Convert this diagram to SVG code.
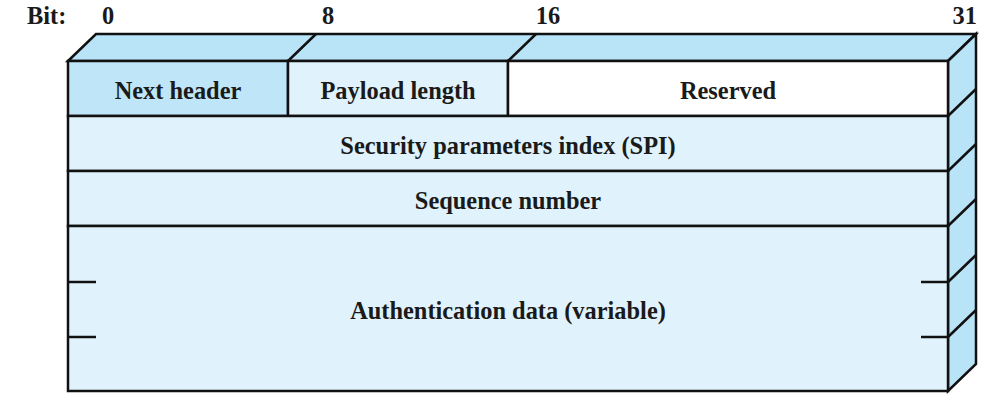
<svg xmlns="http://www.w3.org/2000/svg" width="1005" height="404" viewBox="0 0 1005 404">
<style>
.t{font-family:"Liberation Serif","Times New Roman",serif;font-weight:bold;font-size:24.4px;fill:#1a1a1a}
.c{text-anchor:middle}
.s{stroke:#111;stroke-width:2.5;stroke-linejoin:miter}
.l{stroke:#111;stroke-width:2.5;fill:none}
</style>
<rect width="1005" height="404" fill="#fff"/>
<g id="bitlabels">
<text class="t" x="27" y="24">Bit:</text>
<text class="t c" x="108" y="24">0</text>
<text class="t c" x="328" y="24">8</text>
<text class="t c" x="548" y="24">16</text>
<text class="t" x="977" y="24" text-anchor="end">31</text>
</g>
<g id="top-face">
<polygon class="s" points="68,61 96,34 976,34 948,61" fill="#b9e4f8"/>
</g>
<g id="right-face">
<polygon class="s" points="948,61 976,34 976,364 948,391" fill="#b9e4f8"/>
</g>
<g id="next-header">
<rect class="s" x="68" y="61" width="220" height="55" fill="#bfe6f8"/>
<text class="t c" x="178" y="99">Next header</text>
</g>
<g id="payload-length">
<rect class="s" x="288" y="61" width="220" height="55" fill="#e0f3fc"/>
<text class="t c" x="398" y="99">Payload length</text>
</g>
<g id="reserved">
<rect class="s" x="508" y="61" width="440" height="55" fill="#ffffff"/>
<text class="t c" x="728" y="99">Reserved</text>
</g>
<g id="spi">
<rect class="s" x="68" y="116" width="880" height="55" fill="#e0f3fc"/>
<text class="t c" x="508" y="154">Security parameters index (SPI)</text>
</g>
<g id="sequence">
<rect class="s" x="68" y="171" width="880" height="55" fill="#e0f3fc"/>
<text class="t c" x="508" y="209">Sequence number</text>
</g>
<g id="auth">
<rect class="s" x="68" y="226" width="880" height="165" fill="#e0f3fc"/>
<text class="t c" x="508" y="319">Authentication data (variable)</text>
</g>
<g id="connectors">
<path class="l" d="M288,61 L316,34 M508,61 L536,34"/>
<path class="l" d="M948,116 L976,89 M948,171 L976,144 M948,226 L976,199 M948,282 L976,255 M948,337 L976,310"/>
<path class="l" d="M68,282 H96 M68,337 H96 M921,282 H948 M921,337 H948"/>
</g>
</svg>
